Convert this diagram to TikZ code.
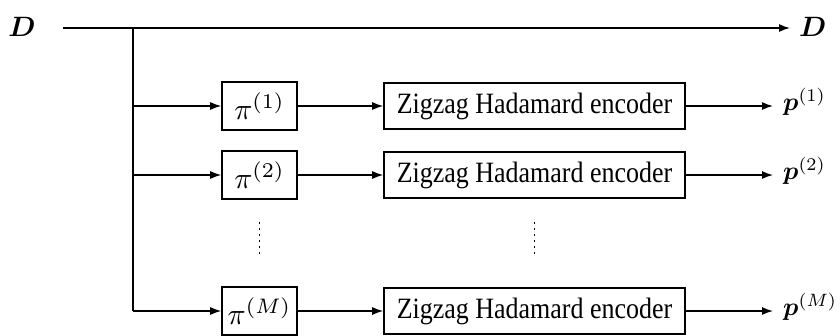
\documentclass[tikz,border=0pt]{standalone}
\usepackage{amsmath,bm,graphicx}
\usepackage{fontspec}
\setmainfont{Liberation Serif}
\newfontfamily\encfont[FakeStretch=0.88]{Liberation Serif}
\usetikzlibrary{positioning,arrows.meta}

% enlarged math labels
\newcommand{\bigmath}[2][3]{\scalebox{#1}{$#2$}}

\tikzset{
  perm/.style={draw, line width=1.6pt, minimum width=75pt, minimum height=48pt, inner sep=0pt},
  enc/.style={draw, line width=1.6pt, minimum width=301pt, minimum height=46pt, inner sep=0pt,
    font=\encfont\fontsize{29.5}{32}\selectfont},
  lbl/.style={inner sep=0pt},
  flow/.style={-{Latex[length=11pt,width=8pt]}, line width=1.3pt},
}

\begin{document}
\begin{tikzpicture}[x=1pt, y=-1pt]

\clip (0,0) rectangle (840,335);

%Data input and pass-through.
\node[lbl] (din) at (22,27) {\bigmath[2.8]{\bm{D}}};
\coordinate (start) at (63,28);
\coordinate (split) at (133,28);
\node[lbl, anchor=west] (dout) at (799,27) {\bigmath[2.8]{\bm{D}}};
\draw[flow, shorten >=9pt] (start) -- (start -| dout.west);

%Interleaver and encoder branches.
\foreach \i/\y in {1/106, 2/175, M/311} {
  \node[perm] (pi\i) at (259.5,\y) {\bigmath{\pi^{(\i)}}};
  \node[enc] (enc\i) at (534.5,\y) {Zigzag Hadamard encoder};
  \node[lbl, anchor=west] (p\i) at (783,\y-4) {\bigmath[2.55]{\bm{p}^{(\i)}}};
  \draw[flow] (split |- pi\i) -- (pi\i);
  \draw[flow] (pi\i) -- (enc\i);
  \draw[flow, shorten >=10pt] (enc\i.east) -- (enc\i.east -| p\i.west);
}
\draw[line width=1.3pt] (split) -- (split |- piM);

%Omitted branches.
\draw[line width=1.5pt, dash pattern=on 1.5pt off 4.5pt] (pi2 |- 0,222) -- (pi2 |- 0,258);
\draw[line width=1.5pt, dash pattern=on 1.5pt off 4.5pt] (enc2 |- 0,222) -- (enc2 |- 0,258);

\end{tikzpicture}
\end{document}
